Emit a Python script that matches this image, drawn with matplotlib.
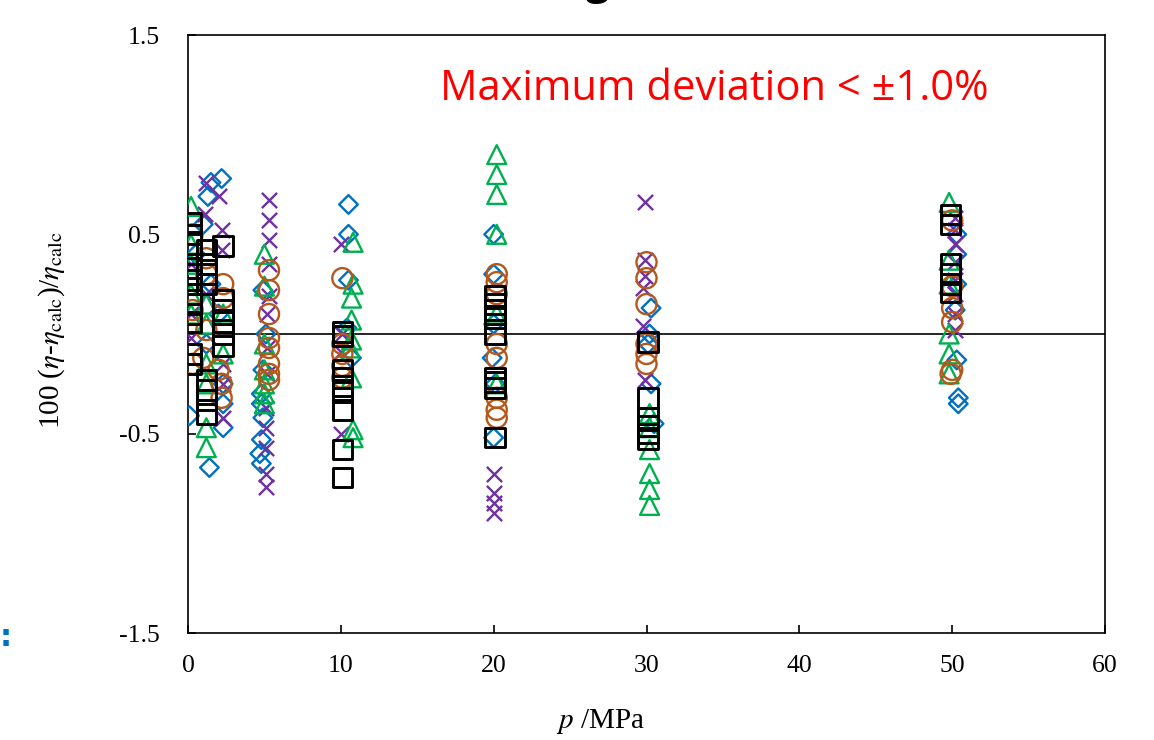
import matplotlib
matplotlib.use("Agg")
import matplotlib.pyplot as plt

plt.rcParams['font.family'] = ['Liberation Serif', 'DejaVu Serif']
plt.rcParams['mathtext.fontset'] = 'stix'

# ---- data: (pressure / MPa, deviation / %) ----
diamond_p = [2.2, 1.5, 1.3, 1.0, 0.5, 1.5, 2.0, 1.2, 2.3, 2.3, 0.1, 2.3, 1.4,
             4.9, 5.1, 4.9, 4.8, 4.8, 4.9, 4.8, 4.7, 4.8,
             10.5, 10.5, 10.5, 10.4, 10.7,
             20.0, 20.0, 20.0, 19.9, 20.1, 20.0,
             30.3, 30.2, 30.1, 30.3, 30.5,
             50.3, 50.3, 50.3, 50.2, 50.3, 50.4, 50.4]
diamond_v = [0.78, 0.76, 0.69, 0.55, 0.40, 0.25, 0.10, -0.05, -0.25, -0.35, -0.41, -0.47, -0.67,
             0.22, 0.00, -0.18, -0.30, -0.35, -0.42, -0.53, -0.60, -0.65,
             0.65, 0.50, 0.27, 0.03, -0.12,
             0.50, 0.30, 0.05, -0.12, -0.25, -0.52,
             0.13, 0.00, -0.05, -0.25, -0.45,
             0.50, 0.40, 0.25, 0.12, -0.13, -0.32, -0.35]

cross_p = [1.2, 2.0, 1.1, 2.2, 2.2, 0.2, 1.2, 0.2, 0.2, 2.3, 2.3, 2.3,
           5.3, 5.3, 5.3, 5.3, 5.3, 5.2, 5.2, 5.2, 5.1, 5.1, 5.1, 5.1, 5.1,
           10.0, 10.1, 10.0, 10.0,
           20.0, 20.0, 20.0, 20.0,
           29.9, 29.9, 29.9, 29.8, 29.8, 29.9,
           50.2, 50.2, 50.2, 50.2, 50.2, 50.2, 50.2, 50.2]
cross_v = [0.76, 0.69, 0.60, 0.52, 0.42, 0.35, 0.20, 0.10, -0.02, -0.15, -0.25, -0.42,
           0.67, 0.57, 0.47, 0.35, 0.19, 0.10, -0.07, -0.20, -0.37, -0.47, -0.57, -0.70, -0.77,
           0.45, 0.00, -0.09, -0.50,
           -0.70, -0.80, -0.85, -0.90,
           0.66, 0.37, 0.29, 0.23, 0.04, -0.23,
           0.58, 0.52, 0.45, 0.36, 0.27, 0.20, 0.10, 0.02]

tri_p = [0.2, 0.2, 0.2, 0.2, 0.2, 1.2, 1.2, 1.2, 1.2, 1.2, 1.2, 2.3, 2.3,
         5.0, 5.0, 5.0, 5.0, 5.0, 5.0, 5.0,
         10.8, 10.8, 10.7, 10.7, 10.7, 10.6, 10.7, 10.8, 10.8,
         20.2, 20.2, 20.2, 20.2, 20.2, 20.2,
         30.2, 30.2, 30.2, 30.2, 30.2, 30.2,
         49.8, 49.8, 49.8, 49.8, 49.8, 49.8]
tri_v = [0.64, 0.45, 0.35, 0.20, 0.10, 0.15, 0.05, -0.15, -0.25, -0.47, -0.57, 0.10, -0.10,
         0.40, 0.24, -0.05, -0.18, -0.25, -0.30, -0.35,
         0.46, 0.25, 0.18, 0.07, -0.03, -0.07, -0.22, -0.48, -0.52,
         0.90, 0.80, 0.70, 0.50, 0.10, -0.25,
         -0.40, -0.47, -0.58, -0.70, -0.78, -0.86,
         0.66, 0.37, 0.25, 0.00, -0.10, -0.20]

circ_p = [0.3, 1.2, 1.2, 2.3, 2.3, 0.3, 1.2, 0.3, 1.0, 2.0, 2.2, 2.2,
          5.3, 5.3, 5.3, 5.3, 5.3, 5.3, 5.3, 5.3,
          10.1, 10.1, 10.1, 10.1, 10.1,
          20.2, 20.2, 20.2, 20.2, 20.2, 20.2, 20.2, 20.2,
          30.0, 30.0, 30.0, 30.0, 30.0, 30.0,
          50.0, 50.0, 50.0, 50.0, 50.0, 49.9]
circ_v = [0.50, 0.38, 0.30, 0.25, 0.18, 0.12, 0.02, -0.15, -0.12, -0.18, -0.25, -0.32,
          0.32, 0.22, 0.10, -0.02, -0.07, -0.15, -0.20, -0.23,
          0.28, -0.05, -0.10, -0.16, -0.22,
          0.30, 0.26, 0.20, -0.05, -0.12, -0.32, -0.38, -0.42,
          0.36, 0.28, 0.15, -0.05, -0.10, -0.15,
          0.57, 0.24, 0.13, 0.06, -0.18, -0.20]

sq_p = [0.2] * 12 + [1.2] * 8 + [2.3] * 6 + [10.1] * 9 + [20.1] * 9 + [30.1] * 6 + [49.9] * 6
sq_v = [0.56, 0.50, 0.45, 0.40, 0.33, 0.27, 0.20, 0.15, 0.10, 0.06, -0.10, -0.15,
        0.42, 0.35, 0.30, 0.25, -0.23, -0.28, -0.33, -0.40,
        0.44, 0.17, 0.12, 0.06, 0.00, -0.06,
        0.01, -0.01, -0.18, -0.22, -0.26, -0.29, -0.38, -0.58, -0.72,
        0.19, 0.15, 0.12, 0.08, 0.00, -0.22, -0.24, -0.27, -0.52,
        -0.04, -0.32, -0.42, -0.46, -0.50, -0.53,
        0.60, 0.55, 0.35, 0.30, 0.25, 0.21]

xticks = [0, 10, 20, 30, 40, 50, 60]
yticks = [-1.5, -0.5, 0.5, 1.5]

fig = plt.figure(figsize=(11.54, 7.40), dpi=100)
ax = fig.add_axes([188 / 1154, 1 - 633 / 740, (1105 - 188) / 1154, (633 - 35) / 740])

lw = 1.7
ax.scatter(diamond_p, diamond_v, marker='D', s=90, facecolors='none', edgecolors='#0070C0', linewidths=lw, zorder=3)
ax.scatter(cross_p, cross_v, marker='x', s=120, color='#7030A0', linewidths=lw, zorder=4)
ax.scatter(tri_p, tri_v, marker='^', s=185, facecolors='none', edgecolors='#00B050', linewidths=lw, zorder=5)
ax.scatter(circ_p, circ_v, marker='o', s=210, facecolors='none', edgecolors='#B4581C', linewidths=lw, zorder=6)
ax.scatter(sq_p, sq_v, marker='s', s=200, facecolors='none', edgecolors='black', linewidths=2.1, zorder=7)

ax.axhline(0, color='black', lw=1.2, zorder=2)

ax.set_xlim(0, 60)
ax.set_ylim(-1.5, 1.5)
ax.set_xticks(xticks)
ax.set_yticks(yticks)
ax.set_yticklabels(['-1.5', '-0.5', '0.5', '1.5'])
ax.tick_params(direction='in', length=6, width=1.2, labelsize=18.5, pad=20)
ax.tick_params(axis='x', pad=16)
for s in ax.spines.values():
    s.set_linewidth(1.2)

ax.set_xlabel(r'$p$ /MPa', fontsize=21)
ax.xaxis.set_label_coords((600 - 188) / (1105 - 188), -(722 - 633) / (633 - 35), transform=ax.transAxes)
ax.xaxis.label.set_va('center')
ax.set_ylabel(r'100 ($\eta$-$\eta_{\mathrm{calc}}$)/$\eta_{\mathrm{calc}}$', fontsize=21)
ax.yaxis.set_label_coords(-(188 - 52) / (1105 - 188), (633 - 330) / (633 - 35), transform=ax.transAxes)
ax.yaxis.label.set_va('center')

fig.text(714 / 1154, 1 - 89 / 740, 'Maximum deviation < ±1.0%', color='#FF0000',
         fontsize=30, family=['Open Sans', 'DejaVu Sans'], ha='center', va='center')

fig.text(6 / 1154, 1 - 637 / 740, ':', color='#0070C0', fontsize=22, fontweight='bold',
         family=['DejaVu Sans'], ha='center', va='center')
fig.text(598 / 1154, 1 + 6 / 740, 'g', color='black', fontsize=30, fontweight='bold',
         family=['Open Sans', 'DejaVu Sans'], ha='center', va='baseline')

fig.savefig('out.png', dpi=100)
